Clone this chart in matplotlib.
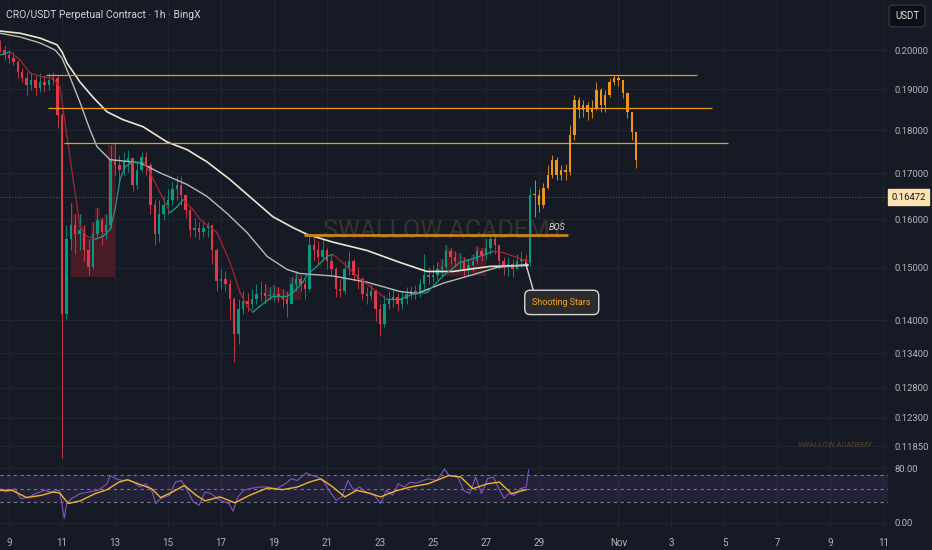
import numpy as np
import matplotlib.pyplot as plt

plt.rcParams['font.family'] = ['Roboto', 'DejaVu Sans']

BG = '#161a25'
GRID = '#222632'
TXT = '#b2b5be'

# 4h candles, first one opens Oct 8 16:00 ; x axis = days after Oct 9 00:00
first_open = 0.2010
closes = [0.2001, 0.1988, 0.1980, 0.1970, 0.1944, 0.1928, 0.1910, 0.1923, 0.1903, 0.1918,
          0.1910, 0.1923, 0.1928, 0.1837, 0.1411, 0.1558, 0.1588, 0.1568, 0.1578, 0.1537,
          0.1501, 0.1568, 0.1599, 0.1574, 0.1588, 0.1731, 0.1719, 0.1708, 0.1726, 0.1735,
          0.1675, 0.1708, 0.1738, 0.1719, 0.1631, 0.1568, 0.1610, 0.1631, 0.1642, 0.1664,
          0.1675, 0.1653, 0.1620, 0.1578, 0.1582, 0.1574, 0.1582, 0.1588, 0.1537, 0.1474,
          0.1478, 0.1468, 0.1439, 0.1375, 0.1421, 0.1435, 0.1430, 0.1439, 0.1449, 0.1452,
          0.1445, 0.1447, 0.1450, 0.1445, 0.1439, 0.1430, 0.1468, 0.1478, 0.1468, 0.1458,
          0.1547, 0.1537, 0.1521, 0.1537, 0.1513, 0.1497, 0.1458, 0.1454, 0.1497, 0.1513,
          0.1487, 0.1478, 0.1449, 0.1445, 0.1454, 0.1421, 0.1393, 0.1430, 0.1439, 0.1443,
          0.1430, 0.1439, 0.1449, 0.1454, 0.1450, 0.1468, 0.1487, 0.1482, 0.1487, 0.1497,
          0.1501, 0.1533, 0.1521, 0.1513, 0.1513, 0.1497, 0.1505, 0.1513, 0.1533, 0.1525,
          0.1541, 0.1558, 0.1547, 0.1513, 0.1501, 0.1507, 0.1497, 0.1513, 0.1517, 0.1509,
          0.1653, 0.1653, 0.1631, 0.1668, 0.1697, 0.1731, 0.1697, 0.1708, 0.1704, 0.1788,
          0.1873, 0.1849, 0.1861, 0.1844, 0.1854, 0.1898, 0.1861, 0.1885, 0.1918, 0.1928,
          0.1923, 0.1890, 0.1844, 0.1795, 0.1731]
highs = [0.2028, 0.2015, 0.2001, 0.1997, 0.1975, 0.1954, 0.1944, 0.1944, 0.1933, 0.1941,
         0.1936, 0.1941, 0.1944, 0.1936, 0.1840, 0.1588, 0.1635, 0.1610, 0.1610, 0.1588,
         0.1558, 0.1595, 0.1624, 0.1603, 0.1610, 0.1765, 0.1770, 0.1742, 0.1749, 0.1754,
         0.1735, 0.1726, 0.1749, 0.1749, 0.1724, 0.1642, 0.1642, 0.1649, 0.1664, 0.1682,
         0.1695, 0.1695, 0.1653, 0.1624, 0.1603, 0.1595, 0.1599, 0.1595, 0.1588, 0.1541,
         0.1497, 0.1493, 0.1478, 0.1443, 0.1439, 0.1454, 0.1452, 0.1458, 0.1468, 0.1474,
         0.1468, 0.1462, 0.1466, 0.1462, 0.1458, 0.1454, 0.1482, 0.1493, 0.1487, 0.1478,
         0.1566, 0.1562, 0.1554, 0.1558, 0.1541, 0.1527, 0.1501, 0.1478, 0.1513, 0.1533,
         0.1517, 0.1501, 0.1482, 0.1462, 0.1468, 0.1458, 0.1430, 0.1447, 0.1454, 0.1458,
         0.1452, 0.1454, 0.1462, 0.1464, 0.1466, 0.1478, 0.1527, 0.1501, 0.1505, 0.1511,
         0.1517, 0.1547, 0.1541, 0.1533, 0.1529, 0.1521, 0.1517, 0.1527, 0.1545, 0.1541,
         0.1558, 0.1566, 0.1564, 0.1547, 0.1521, 0.1521, 0.1517, 0.1527, 0.1533, 0.1527,
         0.1668, 0.1686, 0.1664, 0.1679, 0.1719, 0.1742, 0.1738, 0.1719, 0.1722, 0.1812,
         0.1885, 0.1880, 0.1873, 0.1868, 0.1873, 0.1918, 0.1903, 0.1898, 0.1928, 0.1936,
         0.1936, 0.1923, 0.1892, 0.1844, 0.1795]
lows = [0.1997, 0.1975, 0.1967, 0.1962, 0.1928, 0.1918, 0.1885, 0.1898, 0.1885, 0.1893,
        0.1893, 0.1898, 0.1910, 0.1805, 0.1166, 0.1402, 0.1537, 0.1527, 0.1537, 0.1513,
        0.1487, 0.1497, 0.1558, 0.1547, 0.1558, 0.1582, 0.1697, 0.1686, 0.1697, 0.1704,
        0.1660, 0.1664, 0.1704, 0.1697, 0.1610, 0.1547, 0.1552, 0.1599, 0.1610, 0.1631,
        0.1642, 0.1631, 0.1603, 0.1562, 0.1562, 0.1558, 0.1562, 0.1562, 0.1507, 0.1454,
        0.1458, 0.1454, 0.1402, 0.1325, 0.1357, 0.1411, 0.1417, 0.1421, 0.1430, 0.1435,
        0.1430, 0.1437, 0.1435, 0.1434, 0.1425, 0.1406, 0.1430, 0.1454, 0.1454, 0.1439,
        0.1454, 0.1513, 0.1507, 0.1513, 0.1497, 0.1485, 0.1443, 0.1443, 0.1450, 0.1487,
        0.1474, 0.1458, 0.1437, 0.1430, 0.1437, 0.1398, 0.1371, 0.1388, 0.1421, 0.1425,
        0.1417, 0.1421, 0.1430, 0.1439, 0.1439, 0.1443, 0.1458, 0.1468, 0.1472, 0.1478,
        0.1485, 0.1497, 0.1507, 0.1501, 0.1497, 0.1485, 0.1487, 0.1493, 0.1507, 0.1513,
        0.1517, 0.1527, 0.1527, 0.1497, 0.1487, 0.1484, 0.1482, 0.1497, 0.1501, 0.1497,
        0.1503, 0.1605, 0.1616, 0.1624, 0.1664, 0.1690, 0.1686, 0.1686, 0.1686, 0.1697,
        0.1777, 0.1830, 0.1832, 0.1825, 0.1830, 0.1849, 0.1844, 0.1844, 0.1880, 0.1910,
        0.1908, 0.1878, 0.1830, 0.1777, 0.1713]
orange_from = 121          # candles painted orange after the breakout
callout_idx = 119          # "Shooting Stars" candle

# moving averages (day, price)
slow_t = [-0.34, 0.42, 1.17, 1.81, 2.0, 2.19, 2.68, 3.17, 3.70, 4.30, 5.06, 5.96, 6.72,
          7.47, 8.34, 9.21, 9.96, 10.72, 11.25, 12.23, 13.51, 14.75, 15.77, 16.75, 18.15, 19.58]
slow_p = [0.2052, 0.2046, 0.2033, 0.2015, 0.1996, 0.1967, 0.1918, 0.1880, 0.1844, 0.1825,
          0.1808, 0.1772, 0.1754, 0.1726, 0.1686, 0.1642, 0.1605, 0.1582, 0.1568, 0.1552,
          0.1535, 0.1511, 0.1493, 0.1493, 0.1503, 0.1505]
mid_t = [-0.34, 0.42, 1.17, 1.74, 2.0, 2.30, 2.68, 3.06, 3.32, 3.81, 4.94, 5.70, 6.72, 7.47,
         8.23, 8.98, 9.74, 10.49, 10.98, 12.23, 13.51, 14.75, 15.40, 16.38, 17.40, 18.42, 19.58]
mid_p = [0.2046, 0.2036, 0.2020, 0.2001, 0.1980, 0.1931, 0.1867, 0.1800, 0.1761, 0.1731,
         0.1724, 0.1701, 0.1675, 0.1649, 0.1612, 0.1572, 0.1523, 0.1497, 0.1489, 0.1484,
         0.1472, 0.1454, 0.1450, 0.1470, 0.1485, 0.1501, 0.1507]
fast_t = [-0.34, 0.04, 0.42, 0.79, 1.28, 1.66, 1.92, 2.19, 2.42, 2.68, 2.94, 3.25, 3.55, 3.81,
          4.0, 4.19, 4.38, 4.68, 5.06, 5.32, 5.70, 6.08, 6.34, 6.57, 6.94, 7.21, 7.85, 8.34,
          8.72, 8.98, 9.21, 9.47, 9.96, 10.49, 10.72, 11.09, 11.25, 11.62, 12.0, 12.23, 12.75,
          13.25, 13.62, 14.26, 14.75, 15.25, 15.77, 16.38, 17.02, 17.66, 18.26, 18.64, 19.17, 19.55]
fast_p = [0.1988, 0.1996, 0.1975, 0.1941, 0.1931, 0.1928, 0.1905, 0.1784, 0.1686, 0.1584,
          0.1564, 0.1558, 0.1564, 0.1578, 0.1620, 0.1686, 0.1715, 0.1726, 0.1726, 0.1701,
          0.1657, 0.1614, 0.1626, 0.1642, 0.1620, 0.1599, 0.1572, 0.1511, 0.1452, 0.1426,
          0.1415, 0.1426, 0.1445, 0.1445, 0.1452, 0.1472, 0.1487, 0.1503, 0.1523, 0.1527,
          0.1503, 0.1478, 0.1464, 0.1439, 0.1439, 0.1449, 0.1452, 0.1484, 0.1511, 0.1521,
          0.1533, 0.1531, 0.1521, 0.1513]

# shaded zones: (start day, end day, base price)
zones = [(2.19, 4.11, 0.1483), (9.58, 11.09, 0.1437), (16.0, 18.04, 0.1485)]

# horizontal levels: (start day, end day, price)
levels = [(1.40, 25.96, 0.1935),
          (1.47, 26.53, 0.1854),
          (2.08, 27.13, 0.1770)]
bos = (11.13, 21.09, 0.1567)
last_price = 0.16472

# RSI pane
rsi_t = [-0.34, -0.116, 0.221, 0.445, 0.782, 1.006, 1.343, 1.567, 1.904, 2.016, 2.083, 2.173,
         2.352, 2.689, 3.025, 3.362, 3.699, 3.811, 4.035, 4.260, 4.484, 4.708, 4.933, 5.157,
         5.381, 5.538, 5.718, 6.054, 6.279, 6.503, 6.727, 6.952, 7.176, 7.400, 7.625, 7.961,
         8.298, 8.455, 8.635, 8.859, 9.083, 9.420, 9.756, 10.09, 10.43, 10.65, 10.88, 11.21,
         11.44, 11.66, 11.89, 12.11, 12.34, 12.56, 12.79, 13.01, 13.23, 13.46, 13.79, 14.02,
         14.24, 14.47, 14.69, 14.92, 15.14, 15.37, 15.81, 16.15, 16.44, 16.60, 16.94, 17.16,
         17.38, 17.61, 17.83, 18.06, 18.28, 18.51, 18.69, 18.84, 19.07, 19.29, 19.52, 19.61]
rsi_v = [50, 45.2, 50, 35.5, 38, 42.8, 47.6, 45.2, 47.6, 23.5, 6.6, 28.3, 35.5, 42.8, 45.2,
         47.6, 57.2, 69.3, 64.5, 62, 63, 59.6, 52.4, 57.2, 47.6, 28.3, 35.5, 40.4, 59.6, 62,
         47.6, 30.7, 25.9, 45.2, 42.8, 33.1, 28.3, 17.2, 38, 47.6, 50, 52.4, 52.4, 50, 57.2,
         64.5, 62, 73.1, 69.3, 66.9, 59.6, 45.2, 33.1, 38, 62, 47.6, 52.4, 45.2, 40.4, 28.3,
         47.6, 40.4, 57.2, 52.4, 59.6, 58.2, 64.5, 62, 78.9, 69.3, 66.9, 47.6, 42.8, 66.9,
         42.8, 64.5, 66.9, 47.6, 35.5, 42.8, 40.4, 50, 52.4, 77.5]
sig_t = [-0.34, 0.11, 0.67, 1.23, 1.68, 1.91, 2.24, 2.69, 3.25, 3.70, 4.15, 4.48, 4.93, 5.38,
         5.72, 6.17, 6.62, 7.06, 7.40, 7.96, 8.52, 9.08, 9.75, 10.32, 10.88, 11.33, 11.77,
         12.22, 12.67, 13.12, 13.57, 14.02, 14.58, 15.14, 15.82, 16.60, 17.05, 17.50, 18.06,
         18.51, 18.96, 19.52]
sig_v = [47.6, 47.6, 37, 40.4, 45.2, 43.7, 28.3, 32.2, 42.8, 48.6, 59.6, 63, 56.3, 50, 37,
         45.2, 54.8, 40.4, 32.2, 38, 29.3, 40.4, 51, 48.6, 52.4, 59.6, 64.5, 52.4, 38, 47.6,
         43.7, 38, 46.6, 52.4, 57.2, 69.3, 66.9, 50, 57.2, 59.6, 42.8, 48.6]

price_ticks = [0.2, 0.19, 0.18, 0.17, 0.16, 0.15, 0.14, 0.134, 0.128, 0.123, 0.1185]
day_ticks = [0, 2, 4, 6, 8, 10, 12, 14, 16, 18, 20, 23, 25, 27, 29, 31, 33]
day_labels = ['9', '11', '13', '15', '17', '19', '21', '23', '25', '27', '29',
              'Nov', '3', '5', '7', '9', '11']

# ---------------------------------------------------------------
fig = plt.figure(figsize=(9.32, 5.5), dpi=100, facecolor=BG)
ax = fig.add_axes([0, 88 / 550, 888 / 932, 462 / 550], facecolor=BG)
ax2 = fig.add_axes([0, 23 / 550, 888 / 932, 65 / 550], facecolor=BG, sharex=ax)

n = len(closes)
t = -1 / 3 + np.arange(n) / 6
c = np.array(closes)
o = np.array([first_open] + closes[:-1])
h = np.array(highs)
l = np.array(lows)

cols = []
for i in range(n):
    if i >= orange_from:
        cols.append('#ef9419')
    elif c[i] >= o[i]:
        cols.append('#089981')
    else:
        cols.append('#e0394a')

for z0, z1, base in zones:
    m = (t >= z0) & (t <= z1)
    ax.fill_between(t[m], base, h[m], step='mid', color='#6b1c28', alpha=0.6, lw=0, zorder=1)

ax.vlines(t, l, h, colors=cols, lw=0.6, zorder=2)
ax.bar(t, np.maximum(np.abs(c - o), 0.00012), bottom=np.minimum(o, c), width=0.09,
       color=cols, lw=0, zorder=2)

ax.plot(slow_t, slow_p, color='#ece6cf', lw=1.2, zorder=3)
ax.plot(mid_t, mid_p, color='#b9b9b9', lw=1.0, zorder=3)
for i in range(len(fast_t) - 1):
    col = '#a8232f' if fast_p[i + 1] < fast_p[i] else '#1f9a82'
    ax.plot(fast_t[i:i + 2], fast_p[i:i + 2], color=col, lw=0.9, zorder=3)

for x0, x1, p in levels:
    ax.hlines(p, x0, x1, color='#f39a14', lw=0.9, zorder=4)
ax.hlines(bos[2], bos[0], bos[1], color='#c7841f', lw=2.0, zorder=4)
ax.annotate('BOS', xy=(bos[1], bos[2]), xytext=(-3, 3), textcoords='offset pixels',
            ha='right', va='bottom', fontsize=6.5, style='italic', color='#d1d4dc', zorder=5)
ax.axhline(last_price, color='#5d606b', ls=(0, (1, 2)), lw=0.7, zorder=1)

ax.annotate('Shooting Stars', xy=(t[callout_idx], closes[callout_idx]), xytext=(36, -39),
            textcoords='offset pixels', ha='center', va='center', fontsize=6.5,
            color='#f5a623', zorder=6,
            bbox=dict(boxstyle='round,pad=0.85,rounding_size=0.6', fc='#2b2b2e',
                      ec='#d6d6d6', lw=1),
            arrowprops=dict(arrowstyle='-', color='#d6d6d6', lw=1, shrinkA=0, shrinkB=0,
                            relpos=(0.05, 1)))

ax.text(0.5, 0.5, 'SWALLOW ACADEMY', transform=ax.transAxes, ha='center', va='center',
        fontsize=18, color='#3a3329', zorder=0.5)
ax.text(0.94, 0.037, 'SWALLOW ACADEMY', transform=ax.transAxes, ha='center', va='center',
        fontsize=5.5, color='#57462f')

ax.set_yscale('log')
ax.set_ylim(0.11604, 0.2138)
ax.set_xlim(-0.34, 33.17)
ax.yaxis.set_minor_locator(plt.NullLocator())
ax.set_yticks(price_ticks)
ax.set_yticklabels(['%.5f' % p for p in price_ticks])
ax.yaxis.tick_right()
ax.tick_params(axis='y', length=0, pad=5, labelsize=6.8, colors=TXT)
ax.tick_params(axis='x', length=0, labelbottom=False)
ax.set_xticks(day_ticks)
ax.grid(True, color=GRID, lw=0.7)
ax.set_axisbelow(True)
for s in ax.spines.values():
    s.set_visible(False)
ax.spines['bottom'].set_visible(True)
ax.spines['bottom'].set_color('#2a2e39')

ax.annotate('%.5f' % last_price, xy=(1, last_price), xycoords=('axes fraction', 'data'),
            xytext=(3, 0), textcoords='offset pixels', ha='left', va='center',
            fontsize=6.8, color='#131722', annotation_clip=False,
            bbox=dict(boxstyle='square,pad=0.35', fc='#fde3b1', ec='#fde3b1'))

# RSI pane
ax2.axhspan(30, 70, color='#7e57c2', alpha=0.12, lw=0)
for lv in (70, 50, 30):
    ax2.axhline(lv, color='#787b86', lw=0.8, ls=(0, (3, 3)))
ax2.plot(rsi_t, rsi_v, color='#7e57c2', lw=0.8)
ax2.plot(sig_t, sig_v, color='#f0b429', lw=1.0)
ax2.set_ylim(-6, 89)
ax2.set_yticks([80, 0])
ax2.set_yticklabels(['80.00', '0.00'])
ax2.yaxis.tick_right()
ax2.tick_params(axis='y', length=0, pad=5, labelsize=6.8, colors=TXT)
ax2.set_xticks(day_ticks)
ax2.set_xticklabels(day_labels)
ax2.tick_params(axis='x', length=0, pad=8, labelsize=7, colors=TXT)
ax2.grid(True, color=GRID, lw=0.7)
ax2.set_axisbelow(True)
for s in ax2.spines.values():
    s.set_visible(False)

fig.text(6 / 932, 1 - 15 / 550, 'CRO/USDT Perpetual Contract · 1h · BingX', fontsize=7.5,
         color='#d1d4dc', va='center', ha='left')
fig.text(907 / 932, 1 - 16 / 550, 'USDT', fontsize=7, color='#e6e6e6', va='center',
         ha='center', bbox=dict(boxstyle='round,pad=0.6,rounding_size=0.3', fc='#0d0f16',
                                ec='#363a45', lw=0.8))

fig.savefig('out.png', dpi=100, facecolor=BG)
